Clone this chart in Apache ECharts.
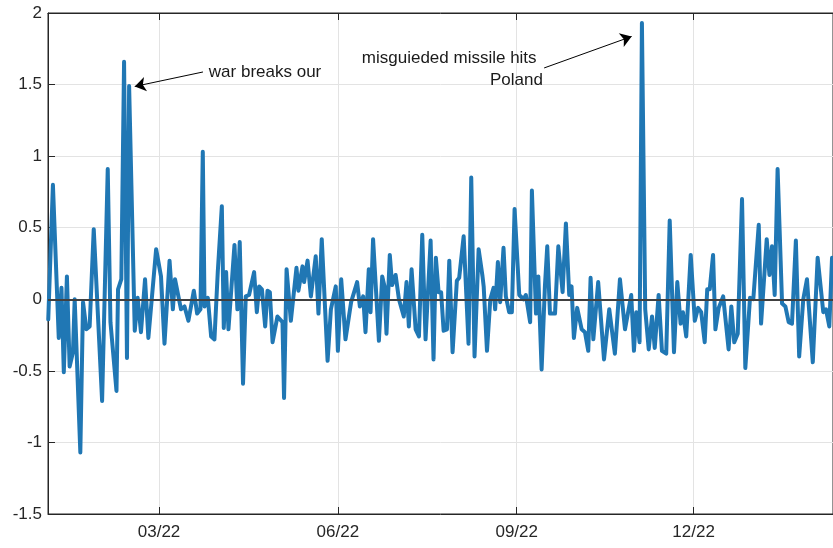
<!DOCTYPE html>
<html>
<head>
<meta charset="utf-8">
<script src="https://cdn.jsdelivr.net/npm/echarts@6/dist/echarts.min.js"></script>
<style>
html,body{margin:0;padding:0;background:#ffffff;}
#chart{width:833px;height:548px;}
</style>
</head>
<body>
<div id="chart"></div>
<script>
// x values: days since 2022-01-01
const days = [
  2.0, 4.4, 7.4, 8.8, 10.0, 11.6, 13.0, 14.7, 15.6, 18.5, 19.9, 21.6, 23.3, 25.4, 29.7, 32.6, 34.0, 37.1, 37.9, 39.6,
  41.0, 42.5, 43.6, 46.5, 48.0, 49.7, 51.8, 53.5, 57.5, 60.0, 61.8, 64.4, 66.1, 67.2, 70.3, 72.1, 74.1, 76.9, 78.6, 80.3,
  81.5, 82.4, 84.1, 85.8, 87.5, 89.2, 91.3, 92.3, 93.5, 94.7, 97.8, 99.3, 100.5, 102.2, 103.6, 105.3, 107.9, 109.3, 110.5, 111.9,
  113.6, 114.8, 116.0, 117.4, 119.9, 122.5, 123.3, 124.6, 126.8, 129.7, 130.7, 132.8, 133.6, 135.4, 137.1, 139.6, 141.0, 142.7, 145.7, 147.4,
  149.9, 151.0, 152.7, 154.9, 157.8, 160.9, 162.3, 164.0, 165.2, 166.9, 167.8, 169.1, 172.1, 173.8, 175.0, 176.0, 177.7, 178.9, 180.7, 182.4,
  184.9, 186.3, 187.5, 188.9, 191.0, 192.7, 194.4, 196.1, 198.7, 200.2, 201.4, 202.8, 204.1, 205.4, 207.1, 208.3, 210.0, 212.2, 213.4, 215.7,
  218.2, 219.6, 221.3, 223.4, 225.4, 226.0, 227.7, 229.4, 231.1, 231.9, 233.3, 234.5, 236.2, 237.4, 239.1, 240.5, 241.9, 244.3, 246.5, 247.7,
  249.9, 250.8, 252.9, 254.1, 255.8, 257.5, 258.7, 260.1, 262.7, 264.4, 266.6, 268.3, 270.0, 271.2, 272.4, 274.1, 276.4, 278.1, 279.8, 281.0,
  282.4, 284.9, 287.9, 290.6, 293.5, 296.1, 298.7, 301.9, 303.3, 304.5, 306.2, 307.4, 309.1, 310.9, 312.6, 314.0, 316.0, 317.7, 319.9, 321.7,
  323.9, 325.6, 327.3, 328.5, 330.2, 332.5, 334.6, 336.3, 337.9, 339.7, 341.0, 342.3, 344.0, 345.2, 346.9, 349.2, 352.0, 353.4, 354.9, 356.7,
  358.9, 360.6, 363.0, 364.7, 367.5, 368.7, 371.6, 373.0, 374.3, 375.7, 377.2, 379.5, 381.2, 382.9, 384.6, 386.6, 388.3, 390.4, 392.3, 395.3,
  397.8, 400.7, 402.1, 403.8, 405.2
];
const values = [
  -0.14, 0.80, -0.27, 0.08, -0.51, 0.16, -0.47, -0.37, 0.00, -1.07, -0.02, -0.21, -0.19, 0.49, -0.71, 0.91, -0.16, -0.64, 0.07, 0.14,
  1.66, -0.41, 1.49, -0.22, 0.01, -0.23, 0.14, -0.27, 0.35, 0.16, -0.31, 0.27, -0.07, 0.14, -0.07, -0.05, -0.15, 0.06, -0.10, -0.07,
  1.03, -0.05, 0.01, -0.26, -0.28, 0.19, 0.65, -0.20, 0.19, -0.21, 0.38, -0.07, 0.40, -0.59, 0.02, 0.03, 0.19, -0.09, 0.09, 0.07,
  -0.19, 0.06, 0.05, -0.30, -0.12, -0.16, -0.69, 0.21, -0.15, 0.22, 0.06, 0.23, 0.12, 0.27, 0.02, 0.30, -0.10, 0.42, -0.43, -0.07,
  0.09, -0.36, 0.14, -0.28, -0.02, 0.12, -0.05, 0.02, -0.23, 0.21, -0.09, 0.42, -0.29, 0.16, 0.09, -0.24, 0.31, 0.10, 0.17, 0.00,
  -0.12, 0.12, -0.19, 0.21, -0.21, -0.26, 0.45, -0.28, 0.41, -0.42, 0.29, 0.05, 0.05, -0.22, -0.21, 0.27, -0.37, 0.13, 0.15, 0.44,
  -0.31, 0.85, -0.40, 0.35, 0.16, 0.09, -0.36, 0.00, 0.08, -0.07, 0.26, -0.02, 0.36, 0.02, -0.09, -0.09, 0.63, 0.03, 0.00, 0.03,
  -0.16, 0.76, -0.10, 0.16, -0.49, 0.09, 0.37, -0.10, -0.10, 0.37, 0.05, 0.53, 0.03, 0.09, -0.27, -0.06, -0.21, -0.23, -0.36, 0.15,
  -0.28, 0.12, -0.42, -0.07, -0.38, 0.14, -0.21, 0.03, -0.36, -0.09, -0.30, 1.93, -0.07, -0.35, -0.12, -0.34, 0.03, -0.36, -0.38, 0.55,
  -0.37, 0.12, -0.17, -0.09, -0.26, 0.31, -0.15, -0.06, -0.09, -0.30, 0.07, 0.07, 0.31, -0.21, -0.06, 0.02, -0.35, -0.05, -0.30, -0.24,
  0.70, -0.48, 0.01, 0.00, 0.52, -0.17, 0.42, 0.17, 0.37, 0.03, 0.91, -0.03, -0.05, -0.16, -0.17, 0.41, -0.40, 0.00, 0.14, -0.44,
  0.29, -0.09, -0.07, -0.19, 0.29
];

// x-axis ticks (days since 2022-01-01) and their labels
const tickDays = [59, 151, 243, 334];
const tickLabels = ['03/22', '06/22', '09/22', '12/22'];

// annotations: arrow tails / tips and text anchors (data coordinates)
const arrowFrom = [[81.6, 1.588], [257.1, 1.616]];
const arrowTo = [[46.5, 1.487], [302.1, 1.836]];
const annoTexts = ['war breaks our', 'misguieded missile hits', 'Poland'];
const annoDays = [84.6, 163.3, 229.2];
const annoVals = [1.583, 1.681, 1.527];

const X_MIN = 1.87, X_MAX = 405.7;
const FONT = '"Liberation Sans", Arial, Helvetica, sans-serif';
const AX = '#262626';

const chart = echarts.init(document.getElementById('chart'), null, {renderer: 'canvas'});

const lineData = days.map((d, i) => [d, values[i]]);
const arrows = arrowFrom.map((f, i) => [{coord: f}, {coord: arrowTo[i]}]);
const texts = annoTexts.map((t, i) => ({name: t, coord: [annoDays[i], annoVals[i]]}));

chart.setOption({
  animation: false,
  backgroundColor: '#ffffff',
  grid: {left: 48, right: 0, top: 13, bottom: 34, show: true, borderColor: AX, borderWidth: 1, backgroundColor: 'transparent'},
  xAxis: [{
    type: 'value', min: X_MIN, max: X_MAX, position: 'bottom',
    axisLine: {show: true, onZero: false, lineStyle: {color: AX, width: 1}},
    axisTick: {show: true, inside: true, length: 7, customValues: tickDays, lineStyle: {color: AX}},
    axisLabel: {customValues: tickDays, formatter: v => tickLabels[tickDays.indexOf(v)], fontSize: 17, margin: 10, color: AX, fontFamily: FONT},
    splitLine: {show: true, lineStyle: {color: '#e3e3e3', width: 1}}
  }, {
    type: 'value', min: X_MIN, max: X_MAX, position: 'top',
    axisLine: {show: true, onZero: false, lineStyle: {color: AX, width: 1}},
    axisTick: {show: true, inside: true, length: 7, customValues: tickDays, lineStyle: {color: AX}},
    axisLabel: {show: false},
    splitLine: {show: false}
  }],
  yAxis: {
    type: 'value', min: -1.5, max: 2, interval: 0.5,
    axisLine: {show: true, onZero: false, lineStyle: {color: AX, width: 1}},
    axisTick: {show: true, inside: true, length: 7, lineStyle: {color: AX}},
    axisLabel: {fontSize: 17, margin: 6, color: AX, fontFamily: FONT},
    splitLine: {show: true, lineStyle: {color: '#e3e3e3', width: 1}}
  },
  series: [{
    type: 'line',
    data: lineData,
    showSymbol: false,
    symbol: 'none',
    silent: true,
    z: 3,
    lineStyle: {color: '#2077b4', width: 4, join: 'round', cap: 'round'}
  }, {
    type: 'line',
    data: [],
    silent: true,
    z: 5,
    markLine: {
      silent: true,
      animation: false,
      symbol: 'none',
      label: {show: false},
      lineStyle: {color: '#404040', width: 2, type: 'solid'},
      data: [{yAxis: 0}]
    }
  }, {
    type: 'line',
    data: [],
    silent: true,
    z: 6,
    markLine: {
      silent: true,
      animation: false,
      symbol: ['none', 'arrow'],
      symbolSize: 11,
      label: {show: false},
      lineStyle: {color: '#000000', width: 1, type: 'solid'},
      itemStyle: {color: '#000000'},
      data: arrows
    },
    markPoint: {
      silent: true,
      animation: false,
      symbol: 'circle',
      symbolSize: 0,
      itemStyle: {color: 'transparent'},
      label: {show: true, position: 'right', distance: 0, formatter: '{b}', fontSize: 17, color: '#1a1a1a', fontFamily: FONT},
      data: texts
    }
  }]
});
</script>
</body>
</html>
